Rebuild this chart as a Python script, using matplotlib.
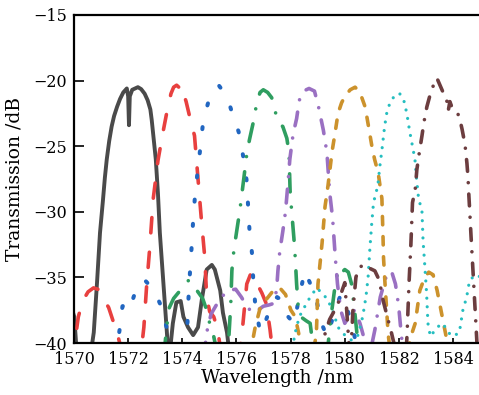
import matplotlib
matplotlib.use("Agg")
import matplotlib.pyplot as plt

plt.rcParams['font.family'] = ['DejaVu Serif']
plt.rcParams['lines.scale_dashes'] = False
plt.rcParams['axes.unicode_minus'] = True

# ---- data (wavelength in nm, transmission in dB) ----
wl_gray = [1569.86, 1570.01, 1570.11, 1570.57, 1570.73, 1570.85, 1570.96, 1571.07, 1571.14, 1571.21,
           1571.3, 1571.39, 1571.48, 1571.59, 1571.7, 1571.82, 1571.95, 1572.0, 1572.03, 1572.06,
           1572.15, 1572.36, 1572.48, 1572.61, 1572.72, 1572.82, 1572.87, 1572.92, 1572.97, 1573.02,
           1573.1, 1573.17, 1573.3, 1573.43, 1573.5, 1573.65, 1573.78, 1573.94, 1574.04, 1574.21,
           1574.4, 1574.58, 1574.72, 1574.9, 1575.09, 1575.2, 1575.4, 1575.5, 1575.65, 1575.75]
db_gray = [-37.0, -38.0, -41.0, -41.5, -39.2, -35.4, -31.6, -29.1, -27.4, -26.0,
           -24.6, -23.5, -22.7, -22.0, -21.4, -20.9, -20.6, -21.2, -23.4, -21.2,
           -20.7, -20.5, -20.65, -21.0, -21.5, -22.2, -23.0, -24.0, -25.0, -26.0,
           -28.6, -31.6, -35.4, -39.2, -41.5, -38.5, -36.9, -36.8, -38.0, -38.8,
           -39.4, -38.8, -36.7, -34.4, -34.05, -34.4, -36.0, -37.7, -39.2, -41.0]

wl_red = [1569.91, 1570.06, 1570.16, 1570.32, 1570.52, 1570.72, 1570.88, 1571.08, 1571.28, 1571.44,
          1571.59, 1571.75, 1572.0, 1572.46, 1572.58, 1572.68, 1572.81, 1572.92, 1573.1, 1573.28,
          1573.42, 1573.58, 1573.68, 1573.79, 1573.92, 1573.97, 1574.02, 1574.14, 1574.3, 1574.45,
          1574.58, 1574.7, 1574.83, 1574.9, 1575.01, 1575.16, 1575.31, 1575.41, 1575.67, 1576.13,
          1576.24, 1576.38, 1576.53, 1576.69, 1576.94, 1577.1, 1577.24, 1577.35]
db_red = [-41.5, -39.5, -38.0, -36.8, -36.1, -35.8, -35.9, -36.6, -37.3, -38.3,
          -39.2, -40.5, -42.0, -41.0, -38.8, -35.7, -32.4, -29.1, -26.1, -24.0,
          -22.5, -21.0, -20.5, -20.35, -20.6, -21.0, -20.8, -21.6, -23.0, -24.2,
          -27.5, -30.5, -33.5, -36.5, -37.6, -38.0, -39.0, -40.5, -41.5, -40.5,
          -38.5, -35.5, -34.7, -35.2, -36.2, -37.0, -39.0, -41.0]

wl_blue = [1571.54, 1571.69, 1571.79, 1571.95, 1572.07, 1572.2, 1572.37, 1572.61, 1572.88, 1573.07,
           1573.24, 1573.38, 1573.48, 1573.63, 1574.09, 1574.19, 1574.24, 1574.28, 1574.34, 1574.39,
           1574.46, 1574.55, 1574.65, 1574.75, 1574.87, 1575.02, 1575.16, 1575.36, 1575.57, 1575.77,
           1575.92, 1576.08, 1576.25, 1576.38, 1576.43, 1576.48, 1576.57, 1576.62, 1576.69, 1576.84,
           1576.99, 1577.1, 1577.3, 1577.5, 1577.71, 1577.91, 1578.12, 1578.32, 1578.52, 1578.73,
           1578.93, 1579.14, 1579.34, 1579.65, 1579.85, 1580.05, 1580.26, 1580.46]
db_blue = [-41.0, -38.9, -37.2, -37.0, -37.4, -36.5, -35.5, -35.2, -35.8, -36.5,
           -37.3, -38.5, -39.3, -40.5, -41.0, -38.5, -36.0, -34.7, -32.8, -31.0,
           -29.0, -27.2, -25.4, -23.5, -22.3, -21.2, -20.6, -20.4, -21.0, -22.0,
           -23.0, -23.9, -25.8, -27.7, -29.6, -31.4, -33.1, -35.2, -37.0, -38.8,
           -39.2, -38.2, -37.0, -36.5, -36.8, -38.0, -38.5, -36.5, -34.5, -35.5,
           -36.5, -38.5, -39.5, -37.5, -36.3, -37.2, -38.5, -40.5]

wl_green = [1573.32, 1573.42, 1573.52, 1573.68, 1573.88, 1574.09, 1574.24, 1574.39, 1574.54, 1574.75,
            1574.9, 1575.01, 1575.16, 1575.31, 1575.57, 1575.72, 1575.79, 1575.83, 1575.87, 1575.97,
            1576.13, 1576.28, 1576.38, 1576.48, 1576.64, 1576.74, 1576.87, 1576.99, 1577.15, 1577.3,
            1577.45, 1577.6, 1577.71, 1577.86, 1577.94, 1577.96, 1577.98, 1578.04, 1578.12, 1578.17,
            1578.22, 1578.27, 1578.37, 1578.57, 1578.72, 1578.83, 1579.34, 1579.49, 1579.65, 1579.77,
            1579.9, 1580.0, 1580.13, 1580.25, 1580.36, 1580.46, 1580.56]
db_green = [-41.0, -38.8, -37.3, -36.6, -36.1, -35.6, -35.2, -35.5, -36.0, -36.6,
            -37.5, -38.5, -39.5, -41.0, -41.0, -39.5, -37.0, -34.5, -33.5, -32.0,
            -29.8, -27.3, -25.6, -24.5, -23.0, -21.8, -20.9, -20.7, -20.9, -21.3,
            -22.5, -23.3, -23.5, -24.4, -25.5, -27.0, -28.4, -30.0, -32.0, -33.5,
            -35.5, -37.0, -38.0, -38.3, -38.5, -40.3, -41.0, -38.0, -35.5, -34.3,
            -34.6, -34.4, -34.6, -35.5, -37.5, -39.5, -41.0]

wl_purple = [1574.8, 1574.9, 1575.06, 1575.37, 1575.67, 1575.97, 1576.18, 1576.38, 1576.59, 1576.79,
             1576.99, 1577.2, 1577.35, 1577.48, 1577.53, 1577.6, 1577.71, 1577.81, 1577.91, 1577.97,
             1578.09, 1578.22, 1578.32, 1578.47, 1578.68, 1578.88, 1579.03, 1579.21, 1579.34, 1579.44,
             1579.55, 1579.6, 1579.65, 1579.73, 1579.85, 1580.0, 1580.15, 1580.36, 1580.56, 1580.76,
             1580.96, 1581.11, 1581.31, 1581.52, 1581.72, 1581.87, 1581.99, 1582.07, 1582.17]
db_purple = [-41.0, -39.2, -37.8, -36.7, -36.0, -35.9, -36.5, -37.2, -37.7, -37.5,
             -37.2, -37.1, -37.0, -36.0, -34.5, -33.0, -31.5, -30.0, -27.6, -26.0,
             -24.1, -22.9, -21.5, -20.8, -20.6, -20.8, -22.0, -23.8, -25.5, -28.5,
             -30.5, -32.0, -33.5, -35.5, -37.5, -38.5, -38.0, -37.5, -38.5, -40.0,
             -40.5, -39.0, -36.5, -35.0, -34.5, -35.5, -37.2, -39.0, -41.0]

wl_orange = [1576.49, 1576.69, 1576.89, 1577.17, 1577.4, 1577.6, 1577.81, 1578.01, 1578.17, 1578.32,
             1578.47, 1578.83, 1578.95, 1579.01, 1579.16, 1579.27, 1579.38, 1579.45, 1579.53, 1579.64,
             1579.75, 1579.88, 1580.0, 1580.2, 1580.38, 1580.56, 1580.75, 1580.86, 1581.0, 1581.1,
             1581.23, 1581.37, 1581.41, 1581.43, 1581.48, 1581.6, 1581.7, 1582.29, 1582.44, 1582.6,
             1582.77, 1582.95, 1583.1, 1583.26, 1583.41, 1583.58, 1583.77, 1583.87]
db_orange = [-41.0, -38.8, -37.2, -36.5, -35.9, -35.8, -36.3, -37.5, -38.0, -39.5,
             -40.5, -40.8, -39.3, -35.5, -32.4, -29.6, -28.0, -26.8, -25.4, -24.0,
             -22.5, -21.7, -21.2, -20.7, -20.5, -20.9, -22.0, -23.3, -25.0, -26.0,
             -27.0, -29.0, -31.8, -33.5, -35.3, -39.3, -41.0, -41.0, -39.5, -38.5,
             -36.0, -35.0, -34.6, -34.8, -36.0, -37.8, -39.8, -41.0]

wl_cyan = [1578.01, 1578.17, 1578.32, 1578.58, 1578.78, 1578.98, 1579.14, 1579.34, 1579.55, 1579.75,
           1580.0, 1580.26, 1580.49, 1580.66, 1580.78, 1580.86, 1580.92, 1580.99, 1581.06, 1581.22,
           1581.29, 1581.37, 1581.47, 1581.57, 1581.72, 1581.88, 1582.03, 1582.19, 1582.29, 1582.39,
           1582.49, 1582.59, 1582.64, 1582.72, 1582.85, 1582.89, 1582.96, 1583.02, 1583.07, 1583.16,
           1583.41, 1583.62, 1583.82, 1584.0, 1584.23, 1584.36, 1584.5, 1584.61, 1584.84, 1585.04]
db_cyan = [-41.0, -39.2, -38.0, -37.0, -36.3, -35.8, -36.2, -36.6, -37.5, -38.8,
           -39.4, -39.8, -39.4, -38.0, -36.5, -35.0, -33.0, -31.0, -29.3, -28.0,
           -26.6, -25.3, -23.5, -22.2, -21.5, -21.05, -21.0, -21.6, -22.5, -23.8,
           -24.9, -26.0, -27.3, -28.9, -30.0, -32.2, -34.3, -36.2, -38.5, -39.5,
           -38.8, -38.5, -39.2, -39.5, -39.2, -37.5, -36.5, -35.2, -34.8, -35.0]

wl_brown = [1579.03, 1579.24, 1579.44, 1579.6, 1579.75, 1579.9, 1580.0, 1580.07, 1580.15, 1580.23,
            1580.3, 1580.41, 1580.51, 1580.71, 1580.91, 1581.11, 1581.27, 1581.42, 1581.57, 1581.72,
            1581.87, 1582.13, 1582.27, 1582.3, 1582.37, 1582.44, 1582.5, 1582.6, 1582.66, 1582.75,
            1582.85, 1582.92, 1583.03, 1583.2, 1583.4, 1583.63, 1583.75, 1583.82, 1583.88, 1583.95,
            1584.1, 1584.22, 1584.33, 1584.44, 1584.51, 1584.55, 1584.58, 1584.62, 1584.66, 1584.72,
            1584.8, 1584.88, 1584.95]
db_brown = [-41.0, -39.5, -38.2, -37.6, -37.0, -36.0, -35.4, -37.5, -40.0, -40.5,
            -37.5, -35.0, -34.3, -34.0, -34.3, -34.5, -35.2, -36.8, -38.0, -39.2,
            -40.5, -41.0, -40.5, -39.3, -35.5, -32.5, -29.3, -28.3, -26.8, -25.5,
            -24.2, -23.2, -22.0, -20.7, -19.8, -20.9, -21.3, -22.3, -21.6, -22.0,
            -22.3, -22.7, -23.7, -24.9, -26.3, -27.4, -28.7, -30.2, -31.8, -34.0,
            -37.0, -40.0, -42.0]

x_ticks = [1570, 1572, 1574, 1576, 1578, 1580, 1582, 1584]
y_ticks = [-40, -35, -30, -25, -20, -15]

series = [
    (wl_gray, db_gray, "#4a4a4a", "-", 2.8),
    (wl_red, db_red, "#e8403f", (0, (11, 14)), 2.6),
    (wl_blue, db_blue, "#2166c1", (0, (1.5, 16)), 2.9),
    (wl_green, db_green, "#2f9e60", (0, (13, 11, 0.01, 11)), 2.6),
    (wl_purple, db_purple, "#9a70c2", (0, (10, 9, 0.01, 9)), 2.6),
    (wl_orange, db_orange, "#cc922c", (0, (6, 8.5)), 2.6),
    (wl_cyan, db_cyan, "#25bec0", (0, (0.01, 6.2)), 2.3),
    (wl_brown, db_brown, "#6c3d3f", (0, (8.5, 8.2, 0.01, 8.2)), 2.6),
]

fig = plt.figure(figsize=(4.79, 3.95), dpi=100)
ax = fig.add_axes([74 / 479, 52 / 395, 406.2 / 479, 328 / 395])

for wl, db, color, ls, lw in series:
    ax.plot(wl, db, color=color, linestyle=ls, linewidth=lw,
            dash_capstyle="round", solid_capstyle="round",
            dash_joinstyle="round", solid_joinstyle="round")

ax.set_xlim(1570, 1585)
ax.set_ylim(-40, -15)
ax.set_xticks(x_ticks)
ax.set_yticks(y_ticks)

for side in ("left", "top", "bottom"):
    ax.spines[side].set_linewidth(1.6)
ax.spines["right"].set_visible(False)

ax.tick_params(axis="y", direction="in", length=7, width=1.2, labelsize=11.5, pad=5)
ax.tick_params(axis="x", direction="in", length=3.5, width=1.2, labelsize=11.5, pad=6)

ax.set_xlabel("Wavelength /nm", fontsize=13.5)
ax.set_ylabel("Transmission /dB", fontsize=13.5)
ax.xaxis.set_label_coords(0.5, -0.078)
ax.yaxis.set_label_coords(-0.125, 0.5)

fig.savefig("out.png", dpi=100)
